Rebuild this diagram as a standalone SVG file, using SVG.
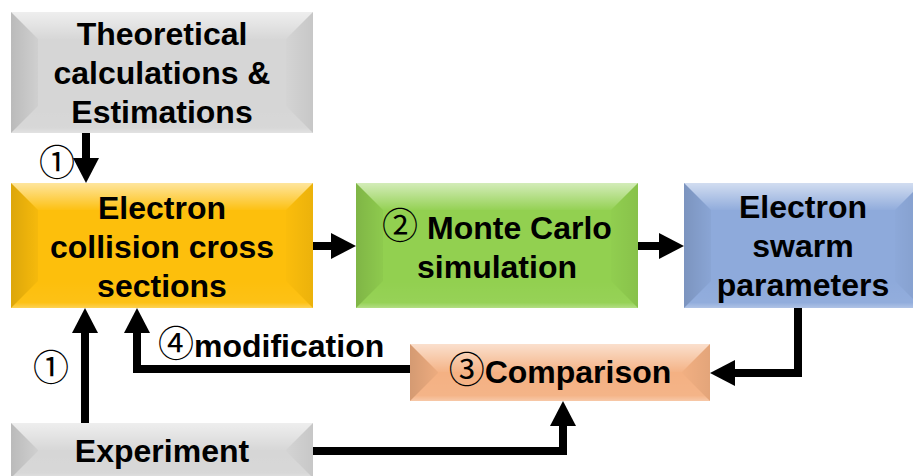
<svg xmlns="http://www.w3.org/2000/svg" width="913" height="476" viewBox="0 0 913 476">
  <defs>
    <!-- bevel facet shading, shared by every box -->
    <linearGradient id="shTop" x1="0" y1="0" x2="0" y2="1">
      <stop offset="0" stop-color="#fff" stop-opacity="0.6"/>
      <stop offset="1" stop-color="#fff" stop-opacity="0.03"/>
    </linearGradient>
    <linearGradient id="shLeft" x1="0" y1="0" x2="1" y2="0">
      <stop offset="0" stop-color="#000" stop-opacity="0.13"/>
      <stop offset="1" stop-color="#000" stop-opacity="0.03"/>
    </linearGradient>
    <linearGradient id="shRight" x1="0" y1="0" x2="1" y2="0">
      <stop offset="0" stop-color="#000" stop-opacity="0.01"/>
      <stop offset="1" stop-color="#000" stop-opacity="0.07"/>
    </linearGradient>
    <linearGradient id="shBot" x1="0" y1="0" x2="0" y2="1">
      <stop offset="0" stop-color="#fff" stop-opacity="0"/>
      <stop offset="0.8" stop-color="#fff" stop-opacity="0.04"/>
      <stop offset="1" stop-color="#fff" stop-opacity="0.3"/>
    </linearGradient>
    <marker id="head" markerUnits="userSpaceOnUse" markerWidth="26" markerHeight="26" viewBox="0 0 26 26" refX="0" refY="13" orient="auto">
      <path d="M0,0 L25,13 L0,26 z" fill="#000"/>
    </marker>
  </defs>
  <style>
    .t { fill: url(#shTop); }
    .l { fill: url(#shLeft); }
    .r { fill: url(#shRight); }
    .b { fill: url(#shBot); }
    .gray { fill: #d6d6d6; }
    .yellow { fill: #fdbf0c; }
    .green { fill: #92d050; }
    .blue { fill: #8eaadb; }
    .orange { fill: #f4b183; }
    .label { font-family: "Liberation Sans", Arial, sans-serif; font-weight: bold; font-size: 32px; fill: #000; text-anchor: middle; }
    .num { font-family: "Noto Sans CJK JP", "DejaVu Sans", sans-serif; font-weight: normal; font-size: 36px; }
    .conn { fill: none; stroke: #000; stroke-width: 8; stroke-linejoin: miter; }
  </style>

  <!-- Theoretical calculations & Estimations -->
  <g id="theory">
    <rect class="gray" x="11" y="12" width="302" height="121"/>
    <polygon class="t" points="11,12 313,12 286,39 38,39"/>
    <polygon class="l" points="11,12 38,39 38,106 11,133"/>
    <polygon class="r" points="313,12 313,133 286,106 286,39"/>
    <polygon class="b" points="11,133 38,106 286,106 313,133"/>
    <text class="label"><tspan x="162" y="45">Theoretical</tspan><tspan x="162" y="84">calculations &amp;</tspan><tspan x="162" y="123">Estimations</tspan></text>
  </g>

  <!-- Electron collision cross sections -->
  <g id="cross-sections">
    <rect class="yellow" x="11" y="183" width="302" height="125"/>
    <polygon class="t" points="11,183 313,183 286,210 38,210"/>
    <polygon class="l" points="11,183 38,210 38,281 11,308"/>
    <polygon class="r" points="313,183 313,308 286,281 286,210"/>
    <polygon class="b" points="11,308 38,281 286,281 313,308"/>
    <text class="label"><tspan x="162" y="219">Electron</tspan><tspan x="162" y="258">collision cross</tspan><tspan x="162" y="297">sections</tspan></text>
  </g>

  <!-- Monte Carlo simulation -->
  <g id="monte-carlo">
    <rect class="green" x="356" y="183" width="282" height="125"/>
    <polygon class="t" points="356,183 638,183 611,210 383,210"/>
    <polygon class="l" points="356,183 383,210 383,281 356,308"/>
    <polygon class="r" points="638,183 638,308 611,281 611,210"/>
    <polygon class="b" points="356,308 383,281 611,281 638,308"/>
    <text class="label"><tspan x="497" y="239"><tspan class="num">②</tspan> Monte Carlo</tspan><tspan x="497" y="278">simulation</tspan></text>
  </g>

  <!-- Electron swarm parameters -->
  <g id="swarm">
    <rect class="blue" x="684" y="183" width="238" height="125"/>
    <polygon class="t" points="684,183 922,183 895,210 711,210"/>
    <polygon class="l" points="684,183 711,210 711,281 684,308"/>
    <polygon class="r" points="922,183 922,308 895,281 895,210"/>
    <polygon class="b" points="684,308 711,281 895,281 922,308"/>
    <text class="label"><tspan x="803" y="218">Electron</tspan><tspan x="803" y="257">swarm</tspan><tspan x="803" y="296">parameters</tspan></text>
  </g>

  <!-- Comparison -->
  <g id="comparison">
    <rect class="orange" x="410" y="344" width="300" height="57"/>
    <polygon class="t" points="410,344 710,344 682,372 438,372"/>
    <polygon class="l" points="410,344 438,372 438,373 410,401"/>
    <polygon class="r" points="710,344 710,401 682,373 682,372"/>
    <polygon class="b" points="410,401 438,373 682,373 710,401"/>
    <text class="label" x="560" y="383"><tspan class="num">③</tspan>Comparison</text>
  </g>

  <!-- Experiment -->
  <g id="experiment">
    <rect class="gray" x="11" y="423" width="302" height="55"/>
    <polygon class="t" points="11,423 313,423 286,450 38,450"/>
    <polygon class="l" points="11,423 38,450 38,451 11,478"/>
    <polygon class="r" points="313,423 313,478 286,451 286,450"/>
    <polygon class="b" points="11,478 38,451 286,451 313,478"/>
    <text class="label" x="162" y="462">Experiment</text>
  </g>

  <!-- connectors -->
  <g id="connectors">
    <path class="conn" d="M86,133 V158" marker-end="url(#head)"/>
    <path class="conn" d="M85,423 V333" marker-end="url(#head)"/>
    <path class="conn" d="M313,246 H331" marker-end="url(#head)"/>
    <path class="conn" d="M638,246 H659" marker-end="url(#head)"/>
    <path class="conn" d="M798,308 V373 H735" marker-end="url(#head)"/>
    <path class="conn" d="M410,369 H137 V333" marker-end="url(#head)"/>
    <path class="conn" d="M313,451 H563 V426" marker-end="url(#head)"/>
    <text class="label num" x="57" y="176">①</text>
    <text class="label num" x="51" y="381">①</text>
    <text class="label" x="158" y="357" style="text-anchor:start"><tspan class="num">④</tspan>modification</text>
  </g>
</svg>
